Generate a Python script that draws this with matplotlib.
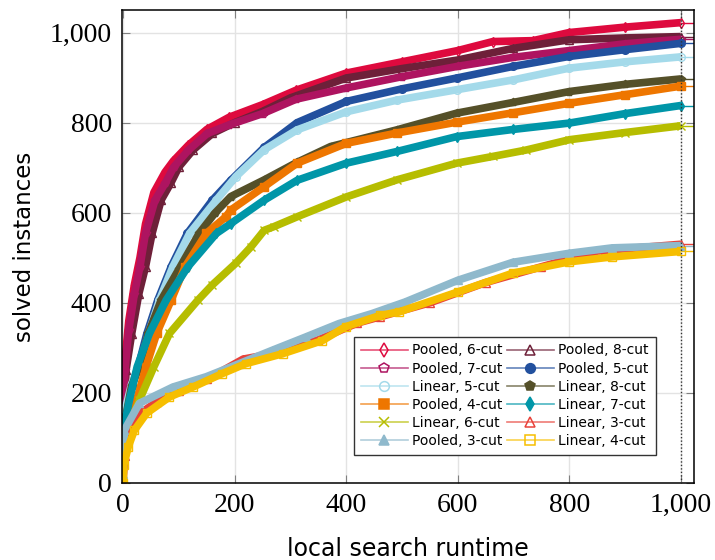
import matplotlib.pyplot as plt
from matplotlib.lines import Line2D
from matplotlib.colors import to_rgb
from matplotlib.ticker import FuncFormatter

# runtime / solved-instance pairs
P6_T = [0, 3, 10, 20, 30, 40, 55, 75, 90, 117, 150, 190, 250, 310, 400, 500, 600, 663, 735, 800, 900, 1000]
P6_N = [110, 270, 360, 440, 500, 575, 645, 690, 715, 750, 785, 812, 840, 872, 910, 935, 960, 980, 982, 1000, 1012, 1022]

P8_T = [0, 5, 15, 28, 40, 52, 68, 85, 100, 125, 160, 200, 250, 300, 400, 500, 600, 700, 800, 900, 1000]
P8_N = [80, 250, 330, 420, 480, 555, 628, 665, 702, 739, 776, 800, 825, 855, 899, 920, 939, 965, 984, 988, 991]

P7_T = [0, 3, 10, 20, 30, 40, 57, 75, 91, 117, 151, 190, 250, 310, 400, 500, 600, 700, 800, 900, 1000]
P7_N = [100, 250, 340, 420, 480, 555, 628, 665, 702, 739, 776, 795, 820, 852, 877, 902, 925, 945, 960, 975, 985]

P5_T = [0, 5, 15, 27, 42, 62, 86, 115, 160, 193, 253, 312, 400, 500, 598, 700, 800, 900, 1000]
P5_N = [60, 160, 215, 258, 330, 406, 480, 554, 628, 672, 745, 800, 847, 875, 899, 925, 947, 962, 976]

L5_T = [0, 5, 15, 29, 45, 65, 89, 119, 167, 202, 253, 312, 400, 491, 598, 700, 800, 900, 1000]
L5_N = [90, 170, 220, 258, 330, 406, 480, 554, 628, 680, 740, 784, 824, 850, 873, 895, 921, 935, 946]

L8_T = [0, 5, 15, 30, 45, 68, 100, 136, 165, 193, 253, 312, 372, 491, 598, 700, 800, 900, 1000]
L8_N = [70, 150, 215, 262, 332, 406, 475, 554, 600, 636, 673, 712, 747, 784, 821, 845, 869, 885, 897]

P4_T = [0, 8, 24, 41, 60, 86, 111, 149, 184, 193, 253, 312, 400, 491, 598, 700, 800, 900, 1000]
P4_N = [50, 130, 184, 258, 332, 406, 480, 554, 591, 606, 658, 710, 754, 777, 801, 822, 843, 862, 881]

L7_T = [0, 4, 11, 25, 47, 77, 116, 167, 193, 253, 312, 400, 491, 598, 700, 800, 900, 1000]
L7_N = [80, 140, 184, 258, 332, 406, 480, 554, 576, 628, 672, 710, 736, 769, 785, 799, 820, 838]

L6_T = [0, 6, 29, 55, 83, 134, 160, 202, 229, 253, 270, 312, 400, 491, 598, 663, 722, 800, 900, 1000]
L6_N = [50, 110, 184, 258, 332, 406, 440, 488, 524, 561, 569, 591, 635, 673, 710, 725, 739, 762, 778, 793]

L3_T = [0, 3, 12, 25, 60, 100, 150, 215, 280, 350, 420, 461, 550, 650, 750, 851, 1000]
L3_N = [10, 60, 110, 150, 180, 205, 230, 275, 290, 318, 355, 369, 400, 445, 480, 515, 530]

P3_T = [0, 2, 29, 89, 149, 208, 268, 327, 387, 446, 506, 600, 699, 800, 877, 1000]
P3_N = [20, 117, 177, 213, 236, 265, 295, 324, 354, 376, 402, 450, 490, 510, 522, 527]

L4_T = [0, 1, 9, 20, 42, 83, 125, 178, 220, 286, 357, 399, 461, 495, 600, 699, 800, 877, 1000]
L4_N = [0, 40, 80, 117, 155, 191, 213, 243, 265, 287, 316, 347, 372, 380, 424, 466, 491, 502, 514]

XTICKS = [0, 200, 400, 600, 800, 1000]
YTICKS = [0, 200, 400, 600, 800, 1000]
TIME_LIMIT = 1000

# label, runtimes, counts, colour, marker, filled
SERIES = [
    ("Pooled, 6-cut", P6_T, P6_N, "#DE0A3E", "d", False),
    ("Pooled, 8-cut", P8_T, P8_N, "#6E2039", "^", False),
    ("Pooled, 7-cut", P7_T, P7_N, "#AE1460", "p", False),
    ("Pooled, 5-cut", P5_T, P5_N, "#22509E", "o", True),
    ("Linear, 5-cut", L5_T, L5_N, "#A4DAEA", "o", False),
    ("Linear, 8-cut", L8_T, L8_N, "#555029", "p", True),
    ("Pooled, 4-cut", P4_T, P4_N, "#EE7600", "s", True),
    ("Linear, 7-cut", L7_T, L7_N, "#0096A8", "d", True),
    ("Linear, 6-cut", L6_T, L6_N, "#B6BD00", "x", True),
    ("Linear, 3-cut", L3_T, L3_N, "#E8423A", "^", False),
    ("Pooled, 3-cut", P3_T, P3_N, "#8FB9CC", "^", True),
    ("Linear, 4-cut", L4_T, L4_N, "#F6BE00", "s", False),
]


def lighten(color, amount):
    r, g, b = to_rgb(color)
    return (r + (1 - r) * amount, g + (1 - g) * amount, b + (1 - b) * amount)


def main():
    fig = plt.figure(figsize=(7.15, 5.6), dpi=100)
    ax = fig.add_axes([0.170, 0.1375, 0.800, 0.8446])
    ax.set_xlim(-3, 1023)
    ax.set_ylim(0, 1050)
    xmax = ax.get_xlim()[1]

    handles = []
    for z, (label, t, n, color, marker, filled) in enumerate(SERIES):
        face = color if filled else "none"
        # dense markers in the original read as a thick band
        ax.plot(t, n, color=color, lw=5.5, solid_capstyle="butt",
                solid_joinstyle="round", zorder=2 + z * 0.01)
        ax.plot(t, n, ls="none", marker=marker, ms=5.5, mfc=face, mec=color,
                mew=1.0, zorder=2 + z * 0.01)
        ax.plot([t[-1], xmax], [n[-1], n[-1]], color=color, lw=1, zorder=2)
        handles.append(Line2D([], [], color=lighten(color, 0.3), lw=1.2,
                              marker=marker, ms=7, mfc=face, mec=color,
                              mew=1.1, label=label))

    ax.axvline(TIME_LIMIT, color="#333333", ls=(0, (1, 1.5)), lw=1, zorder=3)

    ax.set_xticks(XTICKS)
    ax.set_yticks(YTICKS)
    fmt = FuncFormatter(lambda v, _: f"{int(v):,}")
    ax.xaxis.set_major_formatter(fmt)
    ax.yaxis.set_major_formatter(fmt)
    ax.tick_params(direction="in", length=6, width=0.8, color="#808080",
                   top=True, right=True, labelsize=20, pad=7)
    for lab in ax.get_xticklabels() + ax.get_yticklabels():
        lab.set_family("Liberation Serif")
    ax.grid(True, color="#E3E3E3", lw=1)
    ax.set_axisbelow(True)
    for sp in ax.spines.values():
        sp.set_linewidth(1.1)

    ax.set_xlabel("local search runtime", fontsize=17, labelpad=14)
    ax.set_ylabel("solved instances", fontsize=16.5, labelpad=10)

    # matplotlib fills legend columns first, reference reads row by row
    order = [0, 2, 4, 6, 8, 10, 1, 3, 5, 7, 9, 11]
    leg = ax.legend([handles[i] for i in order], [handles[i].get_label() for i in order],
                    ncol=2, loc="lower right", bbox_to_anchor=(0.946, 0.044),
                    fontsize=10, handlelength=3.4, handletextpad=0.3,
                    columnspacing=0.3, labelspacing=0.3, borderpad=0.5,
                    fancybox=False, framealpha=1, edgecolor="#333333")
    leg.get_frame().set_linewidth(1)
    leg.set_zorder(5)

    fig.savefig("out.png", dpi=100)
    plt.close(fig)


if __name__ == "__main__":
    main()
